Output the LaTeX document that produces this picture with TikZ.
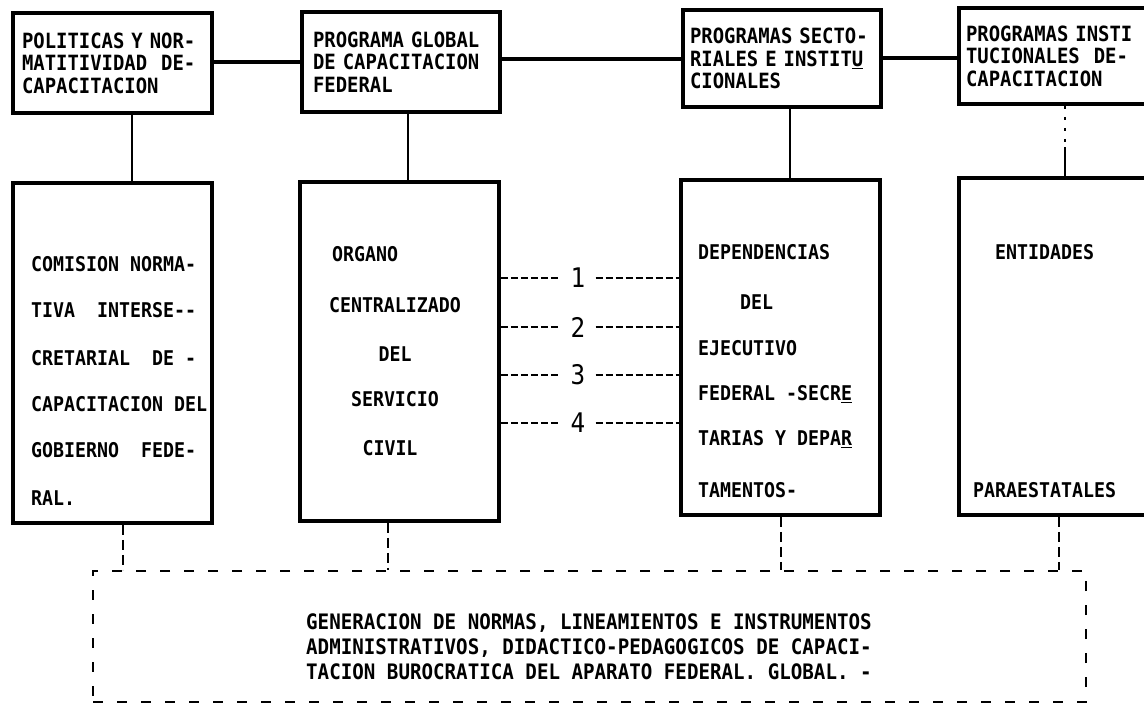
\documentclass[tikz,border=0pt]{standalone}
\usepackage{fontspec}
\setmonofont{DejaVu Sans Mono}[FakeStretch=0.9]
\usetikzlibrary{calc}
\newcommand{\topfont}{\ttfamily\bfseries\fontsize{21}{22.5}\selectfont}
\newcommand{\boxfont}{\ttfamily\bfseries\fontsize{20.3}{22}\selectfont}
\newcommand{\genfont}{\ttfamily\bfseries\fontsize{21.3}{25}\selectfont}
\newcommand{\numfont}{\ttfamily\fontsize{27}{28}\selectfont}
\begin{document}
\begin{tikzpicture}[x=1pt,y=-1pt,
  box/.style={draw=black, line width=3.5pt, rectangle, inner sep=0pt},
  tbox/.style={box, font=\topfont, align=left, inner ysep=0pt},
  ln/.style={font=\boxfont, inner sep=0pt, text height=14.8pt, text depth=0pt, anchor=west},
  lnc/.style={ln, anchor=center},
  gl/.style={font=\genfont, inner sep=0pt, text height=15.5pt, text depth=0pt, anchor=west},
  hconn/.style={line width=3.5pt},
  vconn/.style={line width=1.4pt},
  dconn/.style={line width=2.5pt, dash pattern=on 10pt off 5pt},
  dbox/.style={draw=black, line width=2.5pt, dash pattern=on 10pt off 14pt, rectangle, inner sep=0pt},
  numlab/.style={font=\numfont, inner xsep=10pt, inner ysep=0pt},
  ndash/.style={line width=2pt, dash pattern=on 7pt off 3pt}]
\useasboundingbox (0,0) rectangle (1144,707);
\fill[white] (0,0) rectangle (1144,707);
\clip (0,0) rectangle (1144,707);

% top boxes
\node[tbox, inner xsep=9pt, text width=181pt, minimum height=100pt] (b1) at (112.5,63)
  {POLITICAS Y NOR-\\MATITIVIDAD~~DE-\\CAPACITACION};
\node[tbox, inner xsep=11pt, text width=176pt, minimum height=100pt] (b2) at (401,62)
  {PROGRAMA GLOBAL\\DE CAPACITACION\\FEDERAL};
\node[tbox, inner xsep=7pt, text width=184pt, minimum height=97pt] (b3) at (782,58.5)
  {PROGRAMAS SECTO-\\RIALES E INSTIT\underline{U}\\CIONALES};
\node[tbox, inner xsep=7pt, text width=187pt, minimum height=96pt] (b4) at (1059.5,56)
  {PROGRAMAS INSTI\\TUCIONALES~~DE-\\CAPACITACION};

% horizontal connectors
\coordinate (h1) at (0,62);
\coordinate (h2) at (0,59);
\coordinate (h3) at (0,58);
\draw[hconn] (b1.east |- h1) -- (b2.west |- h1);
\draw[hconn] (b2.east |- h2) -- (b3.west |- h2);
\draw[hconn] (b3.east |- h3) -- (b4.west |- h3);

% bottom boxes
\node[box, minimum width=199pt, minimum height=340pt] (b5) at (112.5,353) {};
\node[box, minimum width=199pt, minimum height=339pt] (b6) at (399.5,351.5) {};
\node[box, minimum width=199pt, minimum height=335pt] (b7) at (780.5,347.5) {};
\node[box, minimum width=201pt, minimum height=337pt] (b8) at (1059.5,346.5) {};

% vertical connectors top -> bottom
\coordinate (x1) at (132,0);
\coordinate (x2) at (408,0);
\coordinate (x3) at (790,0);
\coordinate (x4) at (1065,0);
\coordinate (m4) at (1065,147);
\draw[vconn] (b1.south -| x1) -- (b5.north -| x1);
\draw[vconn] (b2.south -| x2) -- (b6.north -| x2);
\draw[vconn] (b3.south -| x3) -- (b7.north -| x3);
\draw[vconn, dash pattern=on 3pt off 8pt] (b4.south -| x4) -- (m4);
\draw[vconn] (m4) -- (b8.north -| x4);

% texts of bottom boxes
\node[ln] (t5a) at (31,264) {COMISION NORMA-};
\node[ln] (t5b) at (31,310) {TIVA~~INTERSE-{}-};
\node[ln] (t5c) at (31,358) {CRETARIAL~~DE~-};
\node[ln] (t5d) at (31,404) {CAPACITACION~DEL};
\node[ln] (t5e) at (31,450) {GOBIERNO~~FEDE-};
\node[ln] (t5f) at (31,498) {RAL.};

\node[ln] (t6a) at (332,254) {ORGANO};
\node[lnc] (t6b) at (395,305) {CENTRALIZADO};
\node[lnc] (t6c) at (395,354) {DEL};
\node[lnc] (t6d) at (395,399) {SERVICIO};
\node[lnc] (t6e) at (390,448) {CIVIL};

\node[ln] (t7a) at (698,252) {DEPENDENCIAS};
\node[ln] (t7b) at (740,302) {DEL};
\node[ln] (t7c) at (698,348) {EJECUTIVO};
\node[ln] (t7d) at (698,393) {FEDERAL -SECR\underline{E}};
\node[ln] (t7e) at (698,438) {TARIAS Y DEPA\underline{R}};
\node[ln] (t7f) at (698,490) {TAMENTOS-};

\node[ln] (t8a) at (995,252) {ENTIDADES};
\node[ln] (t8b) at (973,490) {PARAESTATALES};

% numbered dashed links
\node[numlab] (n1) at (578,278) {1};
\node[numlab] (n2) at (578,327) {2};
\node[numlab] (n3) at (578,375) {3};
\node[numlab] (n4) at (578,423) {4};
\foreach \n in {n1,n2,n3,n4}{
  \draw[ndash] (b6.east |- \n) -- (\n.west);
  \draw[ndash] (\n.east) -- (b7.west |- \n);
}

% dashed box
\node[dbox, minimum width=993pt, minimum height=131pt] (db) at (589.5,636.5) {};
\coordinate (d1) at (123,0);
\coordinate (d2) at (388,0);
\coordinate (d3) at (781,0);
\coordinate (d4) at (1059,0);
\draw[dconn] (b5.south -| d1) -- (db.north -| d1);
\draw[dconn] (b6.south -| d2) -- (db.north -| d2);
\draw[dconn] (b7.south -| d3) -- (db.north -| d3);
\draw[dconn] (b8.south -| d4) -- (db.north -| d4);

\node[gl] (g1) at (306,622) {GENERACION DE NORMAS, LINEAMIENTOS E INSTRUMENTOS};
\node[gl] (g2) at (306,647) {ADMINISTRATIVOS, DIDACTICO-PEDAGOGICOS DE CAPACI-};
\node[gl] (g3) at (306,672) {TACION BUROCRATICA DEL APARATO FEDERAL. GLOBAL. -};
\end{tikzpicture}
\end{document}
